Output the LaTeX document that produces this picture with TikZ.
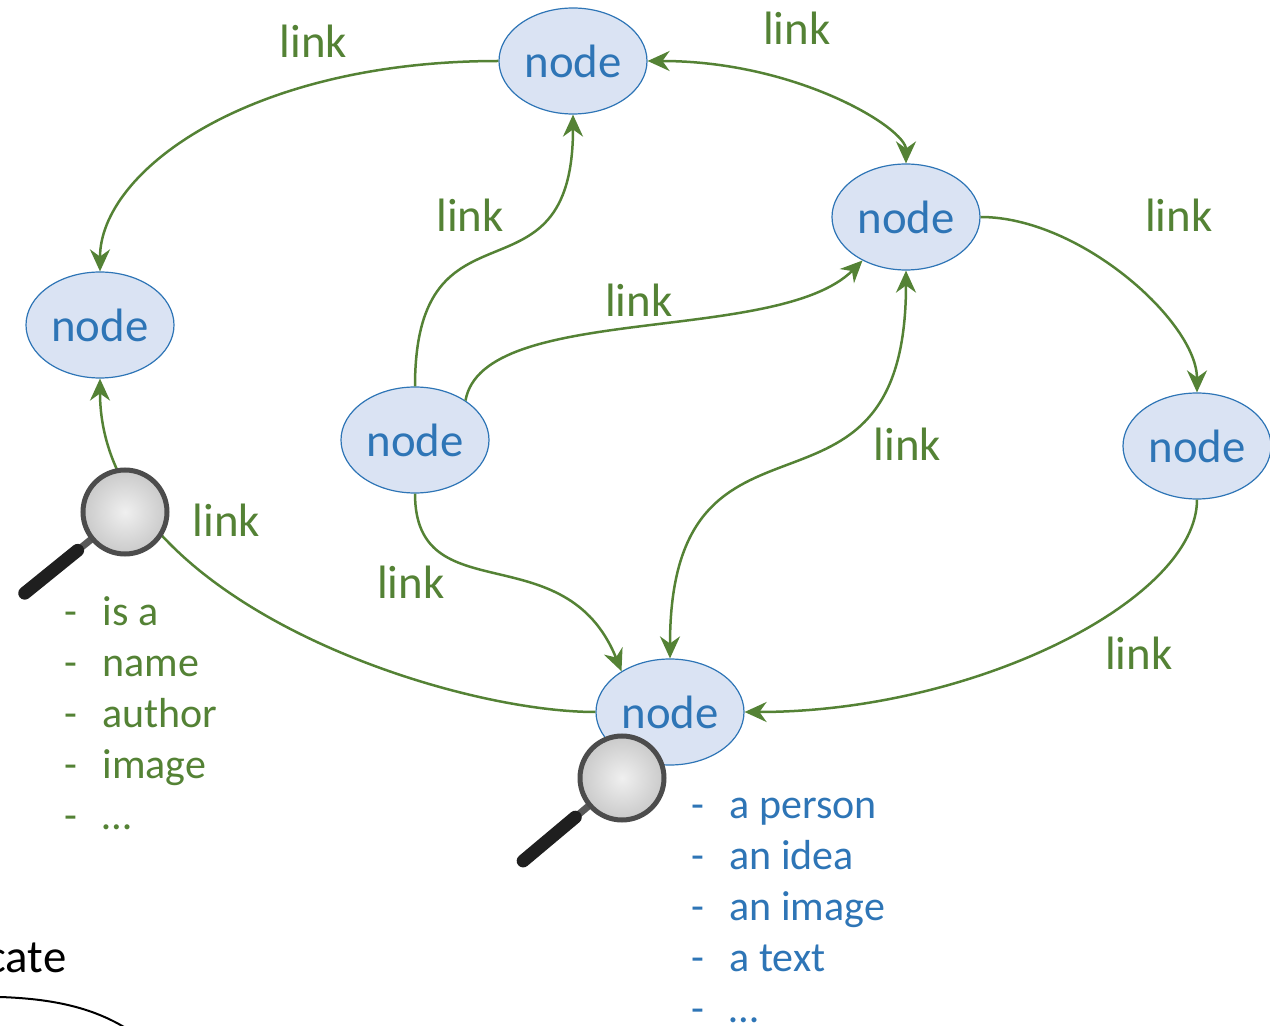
\documentclass[tikz,border=0pt]{standalone}
\usepackage{fontspec}
\setmainfont{Carlito}
\usepackage{tikz}
\usetikzlibrary{arrows.meta,positioning,shapes.geometric}
\definecolor{linkgreen}{RGB}{84,130,53}
\definecolor{nodeblue}{RGB}{46,117,182}
\definecolor{nodefill}{RGB}{218,227,243}
\tikzset{font=\fontsize{23.4}{28}\selectfont}
\tikzset{every picture/.style={line width=0.6pt}}
\tikzstyle{ent}=[ellipse,draw=nodeblue,fill=nodefill,text=nodeblue,minimum width=74pt,minimum height=53pt,inner sep=0pt]
\tikzstyle{lnk}=[color=linkgreen,line width=1.25pt,->,>={Stealth[length=11pt,width=10pt]}]
\tikzstyle{lbl}=[inner sep=0pt]
\tikzstyle{items}=[anchor=north west,inner sep=0pt,font=\fontsize{21}{25.5}\selectfont]
\tikzstyle{lens}=[draw=black!70,line width=2.5pt,inner color=gray!12,outer color=gray!42]
\tikzstyle{neck}=[draw=black!65,line width=3.5pt]
\tikzstyle{grip}=[draw=black!88,line width=6.5pt,line cap=round]

\begin{document}
\begin{tikzpicture}[x=0.5pt,y=0.5pt]
\useasboundingbox (0,0) rectangle (1270,-1026);
\node[ent] (T) at (573,-61) {node};
\node[ent] (R) at (906,-217) {node};
\node[ent] (L) at (100,-325) {node};
\node[ent] (M) at (415,-440) {node};
\node[ent] (F) at (1197,-446) {node};
\node[ent] (B) at (670,-712) {node};
\path[lnk]
(T) edge [out=180,in=90,out distance=125pt,in distance=50pt] node [lbl,pos=0.28,above=13pt] (l1) {link} (L)
(T) edge [<->,out=0,in=90,out distance=75pt,in distance=17.5pt] node [lbl,pos=0.38,above=19.5pt] (l2) {link} (R)
(M) edge [out=90,in=-90,distance=100pt] node [lbl,pos=0.74,left=20.75pt] (l3) {link} (T)
(M.38) edge [out=80,in=-135,out distance=50pt,in distance=60pt] node [lbl,pos=0.5,above=4pt] (l4) {link} (R)
(R) edge [out=0,in=90,out distance=50pt,in distance=35pt] node [lbl,pos=0.4,above right=12.75pt and 22pt] (l5) {link} (F)
(M) edge [out=-90,in=112,out distance=60pt,in distance=75pt] node [lbl,pos=0.35,below left=0.5pt and 7pt] (l6) {link} (B.140)
(B) edge [<->,out=90,in=-90,distance=142.5pt] node [lbl,pos=0.62,right=21.5pt] (l7) {link} (R)
(F) edge [out=-90,in=0,out distance=50pt,in distance=115pt] node [lbl,pos=0.4,below right=9pt and 0pt] (l8) {link} (B)
(B) edge [out=180,in=-90,out distance=75pt,in distance=110pt] node [lbl,pos=0.7,above right=4.75pt and 6.5pt] (l9) {link} (L);
% magnifying glasses
\draw[neck] (125,-512) ++(219:44) -- ++(219:17);
\draw[grip] (125,-512) ++(219:61) -- ++(219:68);
\draw[lens] (125,-512) circle (42);
\draw[neck] (622,-778) ++(220:44) -- ++(220:17);
\draw[grip] (622,-778) ++(220:61) -- ++(220:68);
\draw[lens] (622,-778) circle (42);
% lists
\node[items,text=linkgreen] (props) at (64,-589) {\begin{tabular}{@{}p{19pt}@{}l@{}}-&is a\\-&name\\-&author\\-&image\\-&…\end{tabular}};
\node[items,text=nodeblue] (kinds) at (691,-782) {\begin{tabular}{@{}p{19pt}@{}l@{}}-&a person\\-&an idea\\-&an image\\-&a text\\-&…\end{tabular}};
\node[anchor=base east,inner sep=0pt] (pred) at (67,-972) {cate};
\draw[line width=1pt] (0,-997) .. controls (60,-999) and (100,-1010) .. (135,-1034);
\end{tikzpicture}
\end{document}
